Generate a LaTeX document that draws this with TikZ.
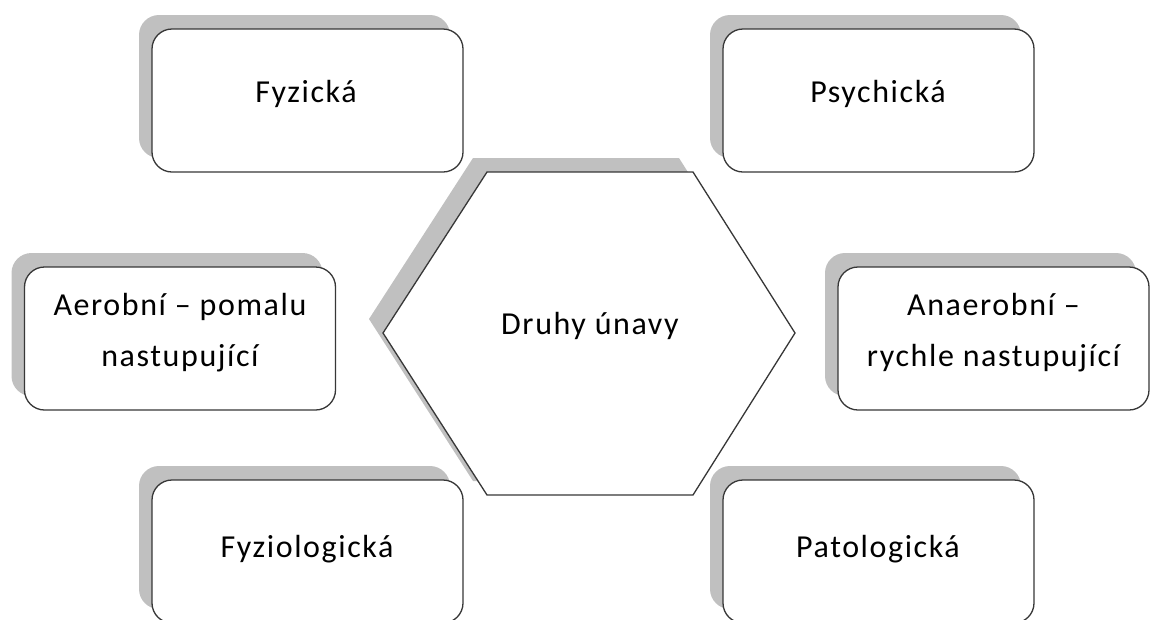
\documentclass[tikz,border=0pt]{standalone}
\usepackage{fontspec}
\setmainfont{Carlito}[LetterSpace=5]
\usetikzlibrary{shadows}
\definecolor{shadowgray}{RGB}{192,192,192}
\definecolor{edgegray}{RGB}{55,55,55}
\tikzset{
  leafbox/.style={draw=edgegray, line width=1.3pt, fill=white, rounded corners=20pt,
    minimum width=311pt, minimum height=143pt, inner sep=0pt,
    general shadow={fill=shadowgray, draw=none, shadow xshift=-13pt, shadow yshift=14pt}},
  hexshape/.style={draw=edgegray, line width=1.3pt, fill=white},
  hexshadow/.style={fill=shadowgray, draw=none},
  label text/.style={font=\fontsize{32}{51}\selectfont, align=center, inner sep=0pt, anchor=base}
}
\begin{document}
\begin{tikzpicture}[x=1pt,y=-1pt]
\useasboundingbox (0,0) rectangle (1151,619);
% hexagon shadow and hexagon
\fill[hexshadow] (473,158) -- (679,158) -- (781,319) -- (679,481) -- (473,481) -- (369,319) -- cycle;
\draw[hexshape] (487,172) -- (693,172) -- (795,333) -- (693,495) -- (487,495) -- (383,333) -- cycle;
\node[label text] (center) at (590,334) {Druhy únavy};
% boxes
\node[leafbox] (fyz) at (307.5,100.5) {};
\node[leafbox] (psy) at (878.5,100.5) {};
\node[leafbox] (aer) at (180,338.5) {};
\node[leafbox] (ana) at (993.5,338.5) {};
\node[leafbox] (fyzio) at (307.5,551.5) {};
\node[leafbox] (pato) at (878.5,551.5) {};
% texts
\node[label text] (fyz-t) at (306,102) {Fyzická};
\node[label text] (psy-t) at (878,102) {Psychická};
\node[label text, anchor=center] (aer-t) at (180,333) {Aerobní – pomalu\\nastupující};
\node[label text, anchor=center] (ana-t) at (993.5,333) {Anaerobní –\\rychle nastupující};
\node[label text] (fyzio-t) at (307,557) {Fyziologická};
\node[label text] (pato-t) at (878,557) {Patologická};
\end{tikzpicture}
\end{document}
